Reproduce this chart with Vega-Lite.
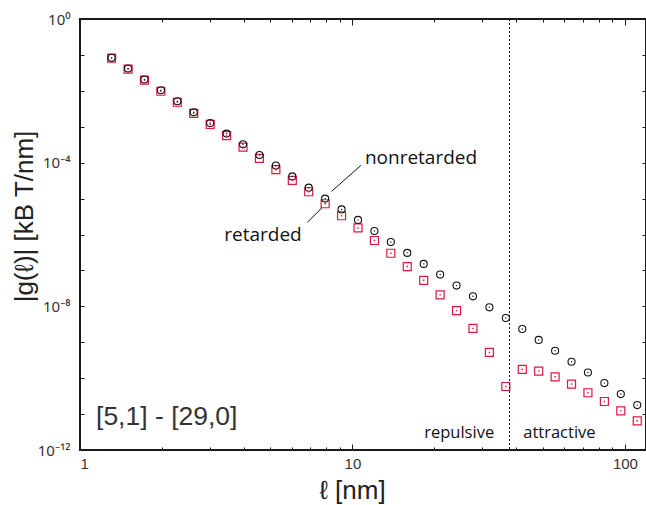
{
  "$schema": "https://vega.github.io/schema/vega-lite/v6.json",
  "width": 566,
  "height": 431,
  "autosize": {"type": "none"},
  "padding": {"left": 80, "top": 19, "right": 0, "bottom": 55},
  "background": "white",
  "config": {
    "view": {"stroke": "#1a1a1a", "strokeWidth": 2},
    "axis": {"domain": false, "grid": false, "tickColor": "#1a1a1a", "tickWidth": 1, "labelFont": "Liberation Sans", "labelFontSize": 15, "labelColor": "#333333", "titleFont": "Liberation Sans", "titleColor": "#222222", "titleFontWeight": "normal"}
  },
  "datasets": {
    "pts": [
      {"x": 1.306, "nonret": 8.28e-2, "ret": 8.11e-2},
      {"x": 1.501, "nonret": 4.19e-2, "ret": 4.01e-2},
      {"x": 1.724, "nonret": 2.07e-2, "ret": 1.98e-2},
      {"x": 1.981, "nonret": 1.04e-2, "ret": 9.75e-3},
      {"x": 2.276, "nonret": 5.13e-3, "ret": 4.81e-3},
      {"x": 2.615, "nonret": 2.53e-3, "ret": 2.37e-3},
      {"x": 3.004, "nonret": 1.27e-3, "ret": 1.17e-3},
      {"x": 3.451, "nonret": 6.44e-4, "ret": 5.66e-4},
      {"x": 3.966, "nonret": 3.24e-4, "ret": 2.72e-4},
      {"x": 4.556, "nonret": 1.63e-4, "ret": 1.32e-4},
      {"x": 5.234, "nonret": 8.30e-5, "ret": 6.38e-5},
      {"x": 6.014, "nonret": 4.15e-5, "ret": 3.21e-5},
      {"x": 6.909, "nonret": 2.01e-5, "ret": 1.55e-5},
      {"x": 7.938, "nonret": 9.98e-6, "ret": 7.18e-6},
      {"x": 9.120, "nonret": 4.98e-6, "ret": 3.33e-6},
      {"x": 10.48, "nonret": 2.54e-6, "ret": 1.52e-6},
      {"x": 12.04, "nonret": 1.25e-6, "ret": 6.81e-7},
      {"x": 13.83, "nonret": 6.18e-7, "ret": 3.01e-7},
      {"x": 15.89, "nonret": 3.08e-7, "ret": 1.28e-7},
      {"x": 18.26, "nonret": 1.52e-7, "ret": 5.31e-8},
      {"x": 20.98, "nonret": 7.66e-8, "ret": 2.08e-8},
      {"x": 24.10, "nonret": 3.78e-8, "ret": 7.59e-9},
      {"x": 27.69, "nonret": 1.90e-8, "ret": 2.43e-9},
      {"x": 31.81, "nonret": 9.38e-9, "ret": 5.21e-10},
      {"x": 36.55, "nonret": 4.74e-9, "ret": 5.86e-11},
      {"x": 42.00, "nonret": 2.34e-9, "ret": 1.75e-10},
      {"x": 48.25, "nonret": 1.16e-9, "ret": 1.58e-10},
      {"x": 55.43, "nonret": 5.81e-10, "ret": 1.09e-10},
      {"x": 63.69, "nonret": 2.86e-10, "ret": 6.84e-11},
      {"x": 73.15, "nonret": 1.44e-10, "ret": 3.92e-11},
      {"x": 84.06, "nonret": 7.29e-11, "ret": 2.24e-11},
      {"x": 96.58, "nonret": 3.61e-11, "ret": 1.23e-11},
      {"x": 110.97, "nonret": 1.78e-11, "ret": 6.49e-12}
    ],
    "leaders": [
      {"x": 10.74, "y": 8.41e-5, "x2": 8.38, "y2": 1.58e-5},
      {"x": 7.73, "y": 5.56e-6, "x2": 6.84, "y2": 2.20e-6}
    ],
    "labels": [
      {"x": 11.11, "y": 9.26e-5, "label": "nonretarded"},
      {"x": 3.385, "y": 6.8e-7, "label": "retarded"}
    ],
    "regions": [
      {"x": 18.34, "y": 2.18e-12, "label": "repulsive"},
      {"x": 42.36, "y": 2.18e-12, "label": "attractive"}
    ],
    "system": [
      {"x": 1.145, "y": 5.0e-12, "label": "[5,1] - [29,0]"}
    ],
    "vline": [{"x": 37.7}]
  },
  "layer": [
    {
      "data": {"name": "pts"},
      "mark": {"type": "point", "shape": "square", "size": 64, "filled": false, "stroke": "#e3173e", "strokeWidth": 1.2, "opacity": 1},
      "encoding": {
        "x": {"field": "x", "type": "quantitative", "scale": {"type": "log", "domain": [1, 119.5], "nice": false},
          "axis": {"orient": "bottom", "values": [1, 10, 100], "tickSize": -6, "labelPadding": 12, "format": "d", "title": "ℓ [nm]", "titleFontSize": 26, "titleX": 272, "titleY": 40, "titleBaseline": "middle", "titleAlign": "center"}},
        "y": {"field": "ret", "type": "quantitative", "scale": {"type": "log", "domain": [1e-12, 1], "nice": false},
          "axis": {"orient": "left", "values": [1, 1e-1, 1e-2, 1e-3, 1e-4, 1e-5, 1e-6, 1e-7, 1e-8, 1e-9, 1e-10, 1e-11, 1e-12], "tickSize": -4, "labelPadding": 14, "labelFont": "Noto Sans", "labelFontSize": 15,
            "labelExpr": "datum.value == 1 ? '10⁰' : abs(log(datum.value)/LN10 + 4) < 0.01 ? '10⁻⁴' : abs(log(datum.value)/LN10 + 8) < 0.01 ? '10⁻⁸' : abs(log(datum.value)/LN10 + 12) < 0.01 ? '10⁻¹²' : ''",
            "title": "|g(ℓ)| [kB T/nm]", "titleFontSize": 26, "titleX": -56, "titleY": 197, "titleAngle": -90, "titleBaseline": "middle", "titleAlign": "center"}}
      }
    },
    {
      "data": {"name": "pts"},
      "mark": {"type": "point", "shape": "circle", "size": 50, "filled": false, "stroke": "#111111", "strokeWidth": 1.1, "opacity": 1},
      "encoding": {
        "x": {"field": "x", "type": "quantitative", "axis": {"orient": "bottom", "values": [2, 3, 4, 5, 6, 7, 8, 9, 20, 30, 40, 50, 60, 70, 80, 90], "tickSize": -3, "labels": false, "title": null}},
        "y": {"field": "nonret", "type": "quantitative", "axis": {"orient": "right", "values": [1, 1e-1, 1e-2, 1e-3, 1e-4, 1e-5, 1e-6, 1e-7, 1e-8, 1e-9, 1e-10, 1e-11, 1e-12], "tickSize": -4, "labels": false, "title": null}}
      }
    },
    {
      "data": {"name": "pts"},
      "mark": {"type": "point", "shape": "square", "size": 2, "filled": true, "color": "#e3173e", "opacity": 1},
      "encoding": {
        "x": {"field": "x", "type": "quantitative", "axis": {"orient": "top", "values": [1, 10, 100], "tickSize": -6, "labels": false, "title": null}},
        "y": {"field": "ret", "type": "quantitative", "axis": null}
      }
    },
    {
      "data": {"name": "pts"},
      "mark": {"type": "point", "shape": "circle", "size": 2, "filled": true, "color": "#111111", "opacity": 1},
      "encoding": {
        "x": {"field": "x", "type": "quantitative", "axis": {"orient": "top", "values": [2, 3, 4, 5, 6, 7, 8, 9, 20, 30, 40, 50, 60, 70, 80, 90], "tickSize": -3, "labels": false, "title": null}},
        "y": {"field": "nonret", "type": "quantitative", "axis": null}
      }
    },
    {
      "data": {"name": "vline"},
      "mark": {"type": "rule", "color": "#111111", "strokeWidth": 1, "strokeDash": [2, 2]},
      "encoding": {
        "x": {"field": "x", "type": "quantitative", "axis": null}
      }
    },
    {
      "data": {"name": "leaders"},
      "mark": {"type": "rule", "color": "#111111", "strokeWidth": 1},
      "encoding": {
        "x": {"field": "x", "type": "quantitative", "axis": null},
        "y": {"field": "y", "type": "quantitative", "axis": null},
        "x2": {"field": "x2"},
        "y2": {"field": "y2"}
      }
    },
    {
      "data": {"name": "labels"},
      "mark": {"type": "text", "font": "Open Sans", "fontSize": 19, "align": "left", "baseline": "alphabetic", "color": "#111111"},
      "encoding": {
        "x": {"field": "x", "type": "quantitative", "axis": null},
        "y": {"field": "y", "type": "quantitative", "axis": null},
        "text": {"field": "label"}
      }
    },
    {
      "data": {"name": "regions"},
      "mark": {"type": "text", "font": "Open Sans", "fontSize": 16.5, "align": "left", "baseline": "alphabetic", "color": "#111111"},
      "encoding": {
        "x": {"field": "x", "type": "quantitative", "axis": null},
        "y": {"field": "y", "type": "quantitative", "axis": null},
        "text": {"field": "label"}
      }
    },
    {
      "data": {"name": "system"},
      "mark": {"type": "text", "font": "Liberation Sans", "fontSize": 26.5, "align": "left", "baseline": "alphabetic", "color": "#333333"},
      "encoding": {
        "x": {"field": "x", "type": "quantitative", "axis": null},
        "y": {"field": "y", "type": "quantitative", "axis": null},
        "text": {"field": "label"}
      }
    }
  ],
  "resolve": {"axis": {"x": "independent", "y": "independent"}}
}
